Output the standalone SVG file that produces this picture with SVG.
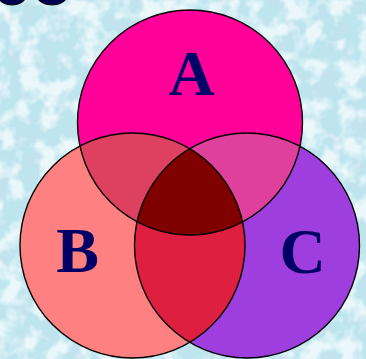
<svg xmlns="http://www.w3.org/2000/svg" width="366" height="359" viewBox="0 0 366 359">
  <defs>
    <filter id="light" x="0" y="0" width="100%" height="100%">
      <feTurbulence type="fractalNoise" baseFrequency="0.05" numOctaves="3" seed="7" result="n"/>
      <feColorMatrix in="n" type="matrix" values="0 0 0 0 0.92  0 0 0 0 0.98  0 0 0 0 1  0 0 0 -4 2.3" result="c"/>
      <feComposite in="c" in2="SourceGraphic" operator="in"/>
    </filter>
    <filter id="dark" x="0" y="0" width="100%" height="100%">
      <feTurbulence type="fractalNoise" baseFrequency="0.06" numOctaves="3" seed="19" result="n"/>
      <feColorMatrix in="n" type="matrix" values="0 0 0 0 0.55  0 0 0 0 0.76  0 0 0 0 0.85  0 0 0 -4 2.2" result="c"/>
      <feComposite in="c" in2="SourceGraphic" operator="in"/>
    </filter>
    <clipPath id="clipA"><circle cx="190" cy="122.5" r="112.5"/></clipPath>
    <clipPath id="clipB"><circle cx="132.5" cy="245.5" r="112.5"/></clipPath>
    <clipPath id="clipC"><circle cx="247" cy="245.5" r="112.5"/></clipPath>
  </defs>
  <style>
    .edge { fill: none; stroke: #000; stroke-width: 1.4; }
    .lbl { font-family: "Liberation Serif", "Times New Roman", serif; font-weight: bold; font-size: 64px; fill: #000066; text-anchor: middle; }
  </style>

  <g id="background">
    <rect x="0" y="0" width="366" height="359" fill="#BDE5EE"/>
    <rect x="0" y="0" width="366" height="359" fill="#fff" filter="url(#dark)" opacity="0.8"/>
    <rect x="0" y="0" width="366" height="359" fill="#fff" filter="url(#light)" opacity="0.8"/>
    <ellipse cx="12" cy="-4" rx="14" ry="9" fill="#000050" stroke="#000" stroke-width="1"/>
    <ellipse cx="52" cy="-4" rx="15" ry="9" fill="#000050" stroke="#000" stroke-width="1"/>
  </g>

  <g id="A">
    <circle cx="190" cy="122.5" r="112.5" fill="#FF0099"/>
  </g>
  <g id="B">
    <circle cx="132.5" cy="245.5" r="112.5" fill="#FF8080"/>
  </g>
  <g id="C">
    <circle cx="247" cy="245.5" r="112.5" fill="#9E3EDE"/>
  </g>
  <g id="AB" clip-path="url(#clipA)">
    <circle cx="132.5" cy="245.5" r="112.5" fill="#DE4060"/>
  </g>
  <g id="AC" clip-path="url(#clipA)">
    <circle cx="247" cy="245.5" r="112.5" fill="#DE409C"/>
  </g>
  <g id="BC" clip-path="url(#clipB)">
    <circle cx="247" cy="245.5" r="112.5" fill="#DE1F40"/>
  </g>
  <g id="ABC" clip-path="url(#clipA)">
    <g clip-path="url(#clipB)">
      <circle cx="247" cy="245.5" r="112.5" fill="#800000"/>
    </g>
  </g>

  <g id="outlines">
    <circle class="edge" cx="190" cy="122.5" r="112.5"/>
    <circle class="edge" cx="132.5" cy="245.5" r="112.5"/>
    <circle class="edge" cx="247" cy="245.5" r="112.5"/>
  </g>

  <g id="labels">
    <text class="lbl" x="191.5" y="95">A</text>
    <text class="lbl" x="77.5" y="272">B</text>
    <text class="lbl" x="302.5" y="273">C</text>
  </g>
</svg>
